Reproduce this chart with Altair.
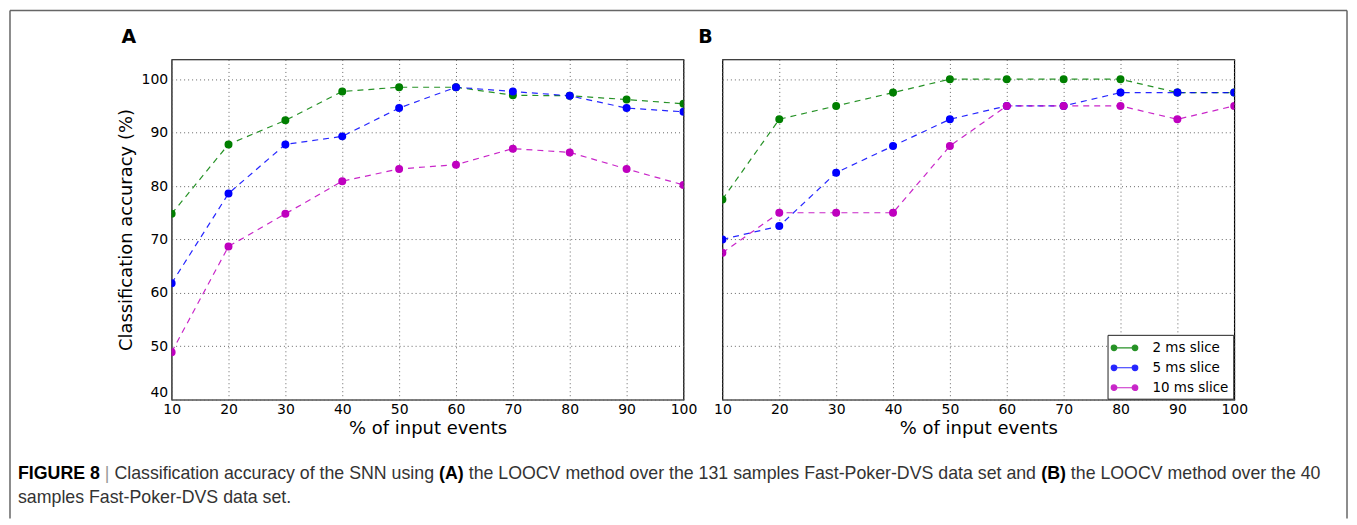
import altair as alt
import pandas as pd

# ---------------- data ----------------
pct = [10, 20, 30, 40, 50, 60, 70, 80, 90, 100]
series_names = ["2 ms slice", "5 ms slice", "10 ms slice"]
series_colors = ["#007f00", "#0000ff", "#bf00bf"]

a_2ms = [74.8, 87.8, 92.3, 97.7, 98.5, 98.5, 97.0, 96.9, 96.2, 95.4]
a_5ms = [61.8, 78.6, 87.8, 89.3, 94.6, 98.5, 97.7, 96.9, 94.6, 93.9]
a_10ms = [48.9, 68.7, 74.8, 80.9, 83.2, 84.0, 87.0, 86.3, 83.2, 80.2]

b_2ms = [77.5, 92.5, 95.0, 97.5, 100.0, 100.0, 100.0, 100.0, 97.5, 97.5]
b_5ms = [70.0, 72.5, 82.5, 87.5, 92.5, 95.0, 95.0, 97.5, 97.5, 97.5]
b_10ms = [67.5, 75.0, 75.0, 75.0, 87.5, 95.0, 95.0, 95.0, 92.5, 95.0]

y_ticks = [40, 50, 60, 70, 80, 90, 100]
panel_labels = ["A", "B"]
x_title = "% of input events"
y_title = "Classification accuracy (%)"

caption_line1 = [
    ("FIGURE 8", "bold", "#000000"),
    ("|", "normal", "#999999"),
    ("Classification accuracy of the SNN using", "normal", "#333333"),
    ("(A)", "bold", "#000000"),
    ("the LOOCV method over the 131 samples Fast-Poker-DVS data set and", "normal", "#333333"),
    ("(B)", "bold", "#000000"),
    ("the LOOCV method over the 40", "normal", "#333333"),
]
caption_line2 = [("samples Fast-Poker-DVS data set.", "normal", "#333333")]

# ---------------- helpers ----------------
REG = {' ': 278, 'a': 556, 'b': 556, 'c': 500, 'd': 556, 'e': 556, 'f': 278, 'g': 556, 'h': 556,
       'i': 222, 'j': 222, 'k': 500, 'l': 222, 'm': 833, 'n': 556, 'o': 556, 'p': 556, 'q': 556,
       'r': 333, 's': 500, 't': 278, 'u': 556, 'v': 500, 'w': 722, 'x': 500, 'y': 500, 'z': 500,
       'A': 667, 'B': 667, 'C': 722, 'D': 722, 'E': 667, 'F': 611, 'G': 778, 'H': 722, 'I': 278,
       'K': 667, 'L': 556, 'M': 833, 'N': 722, 'O': 778, 'P': 667, 'R': 722, 'S': 667, 'T': 611,
       'U': 722, 'V': 667, '(': 333, ')': 333, '-': 333, '.': 278, ',': 278, '|': 260}
BOLD = dict(REG)
BOLD.update({'A': 722, 'B': 722, 'R': 722, 'E': 667, 'G': 778, 'U': 722, 'F': 611, 'I': 278, '|': 280})
for d in "0123456789":
    REG[d] = 556
    BOLD[d] = 556

CAP_SIZE = 17.8


def text_width(s, weight):
    table = BOLD if weight == "bold" else REG
    return sum(table.get(ch, 556) for ch in s) / 1000.0 * CAP_SIZE


def long_df(values_by_series):
    rows = []
    for name, vals in zip(series_names, values_by_series):
        for p, v in zip(pct, vals):
            rows.append({"pct": p, "acc": v, "series": name})
    return pd.DataFrame(rows)


df_a = long_df([a_2ms, a_5ms, a_10ms])
df_b = long_df([b_2ms, b_5ms, b_10ms])

PLOT_W = 513
PLOT_H = 341
FONT = "DejaVu Sans"

color_scale = alt.Scale(domain=series_names, range=series_colors)
x_scale = alt.Scale(domain=[10, 100], nice=False, zero=False)
y_scale = alt.Scale(domain=[40, 103.7], nice=False, zero=False)

x_axis = alt.Axis(values=pct, title=x_title, titleFont=FONT, titleFontSize=18,
                  titleFontWeight="normal", titleColor="black", titlePadding=3,
                  labelFont=FONT, labelFontSize=14, labelColor="black", labelPadding=3,
                  labelFlush=False, labelOverlap=False, ticks=False, domain=False,
                  grid=True, gridDash=[1, 3], gridColor="#666666", gridWidth=1)

sym_path = ("M-1.6625,0 A0.35,0.35 0 1,0 -0.9625,0 A0.35,0.35 0 1,0 -1.6625,0 Z "
            "M0.9625,0 A0.35,0.35 0 1,0 1.6625,0 A0.35,0.35 0 1,0 0.9625,0 Z "
            "M-0.9625,0 L0.9625,0")

legend_b = alt.Legend(orient="none", legendX=386, legendY=276, title=None,
                      symbolType=sym_path, symbolSize=256, symbolStrokeWidth=1.2,
                      symbolOffset=4, labelOffset=19, labelFont=FONT, labelFontSize=13.5,
                      labelColor="black", rowPadding=4, padding=4,
                      strokeColor="#222222", fillColor="white", cornerRadius=0)


def panel(df, show_y, legend, label, label_x):
    y_axis = alt.Axis(values=y_ticks, title=y_title if show_y else None, titleFont=FONT,
                      titleFontSize=18, titleFontWeight="normal", titleColor="black",
                      titleX=-45, titleBaseline="middle",
                      labels=show_y, labelFont=FONT, labelFontSize=14, labelColor="black",
                      labelPadding=4, labelFlush=True, labelFlushOffset=0, labelOverlap=False,
                      ticks=False, domain=False, grid=True, gridDash=[1, 3],
                      gridColor="#666666", gridWidth=1)
    base = alt.Chart(df).encode(
        x=alt.X("pct:Q", scale=x_scale, axis=x_axis),
        y=alt.Y("acc:Q", scale=y_scale, axis=y_axis),
    )
    lines = base.mark_line(strokeDash=[6, 5], strokeWidth=1.2, opacity=0.85, clip=True).encode(
        color=alt.Color("series:N", scale=color_scale, legend=legend, sort=series_names)
    )
    points = base.mark_point(filled=True, size=36, opacity=1, clip=True).encode(
        color=alt.Color("series:N", scale=color_scale, legend=legend, sort=series_names),
        stroke=alt.Stroke("series:N", scale=color_scale, legend=legend, sort=series_names),
    )
    lab = alt.Chart(pd.DataFrame({"t": [label]})).mark_text(
        font=FONT, fontSize=19, fontWeight="bold", color="black", align="center", baseline="middle"
    ).encode(text="t:N", x=alt.value(label_x), y=alt.value(-22))
    return [lines, points, lab]


layers_a = panel(df_a, True, None, panel_labels[0], -43)
layers_b = panel(df_b, False, legend_b, panel_labels[1], -17)

# caption (in panel A coordinates: plot A left edge at page x=170, top at y=57)
cap_layers = []
x0 = 16 - 170
space = REG[' '] / 1000.0 * CAP_SIZE
for line, ypos in ((caption_line1, 472 - 57), (caption_line2, 497 - 57)):
    xx = x0
    for txt, weight, col in line:
        cap_layers.append(
            alt.Chart(pd.DataFrame({"t": [txt]})).mark_text(
                font="Liberation Sans", fontSize=CAP_SIZE, fontWeight=weight, color=col,
                align="left", baseline="middle"
            ).encode(text="t:N", x=alt.value(xx), y=alt.value(ypos))
        )
        xx += text_width(txt, weight) + space

# figure frame (left, top, right edges)
frame_df = pd.DataFrame({"k": [0]})
frame_left = alt.Chart(frame_df).mark_rule(color="#666666", strokeWidth=1.5).encode(
    x=alt.value(-162), y=alt.value(-49), y2=alt.value(460))
frame_top = alt.Chart(frame_df).mark_rule(color="#666666", strokeWidth=1.5).encode(
    x=alt.value(-162), x2=alt.value(1178), y=alt.value(-49))
frame_right = alt.Chart(frame_df).mark_rule(color="#666666", strokeWidth=1.5).encode(
    x=alt.value(1178), y=alt.value(-49), y2=alt.value(460))

chart_a = alt.layer(*layers_a, *cap_layers, frame_left, frame_top, frame_right).properties(
    width=PLOT_W, height=PLOT_H)
chart_b = alt.layer(*layers_b).properties(width=PLOT_W, height=PLOT_H)

chart = alt.hconcat(chart_a, chart_b, spacing=39, bounds="flush").resolve_scale(
    color="independent", stroke="independent"
).properties(padding=0, background="white").configure_view(
    stroke="black", strokeWidth=1.2
)

chart.save("out.html", embed_options={"renderer": "svg", "actions": False})
